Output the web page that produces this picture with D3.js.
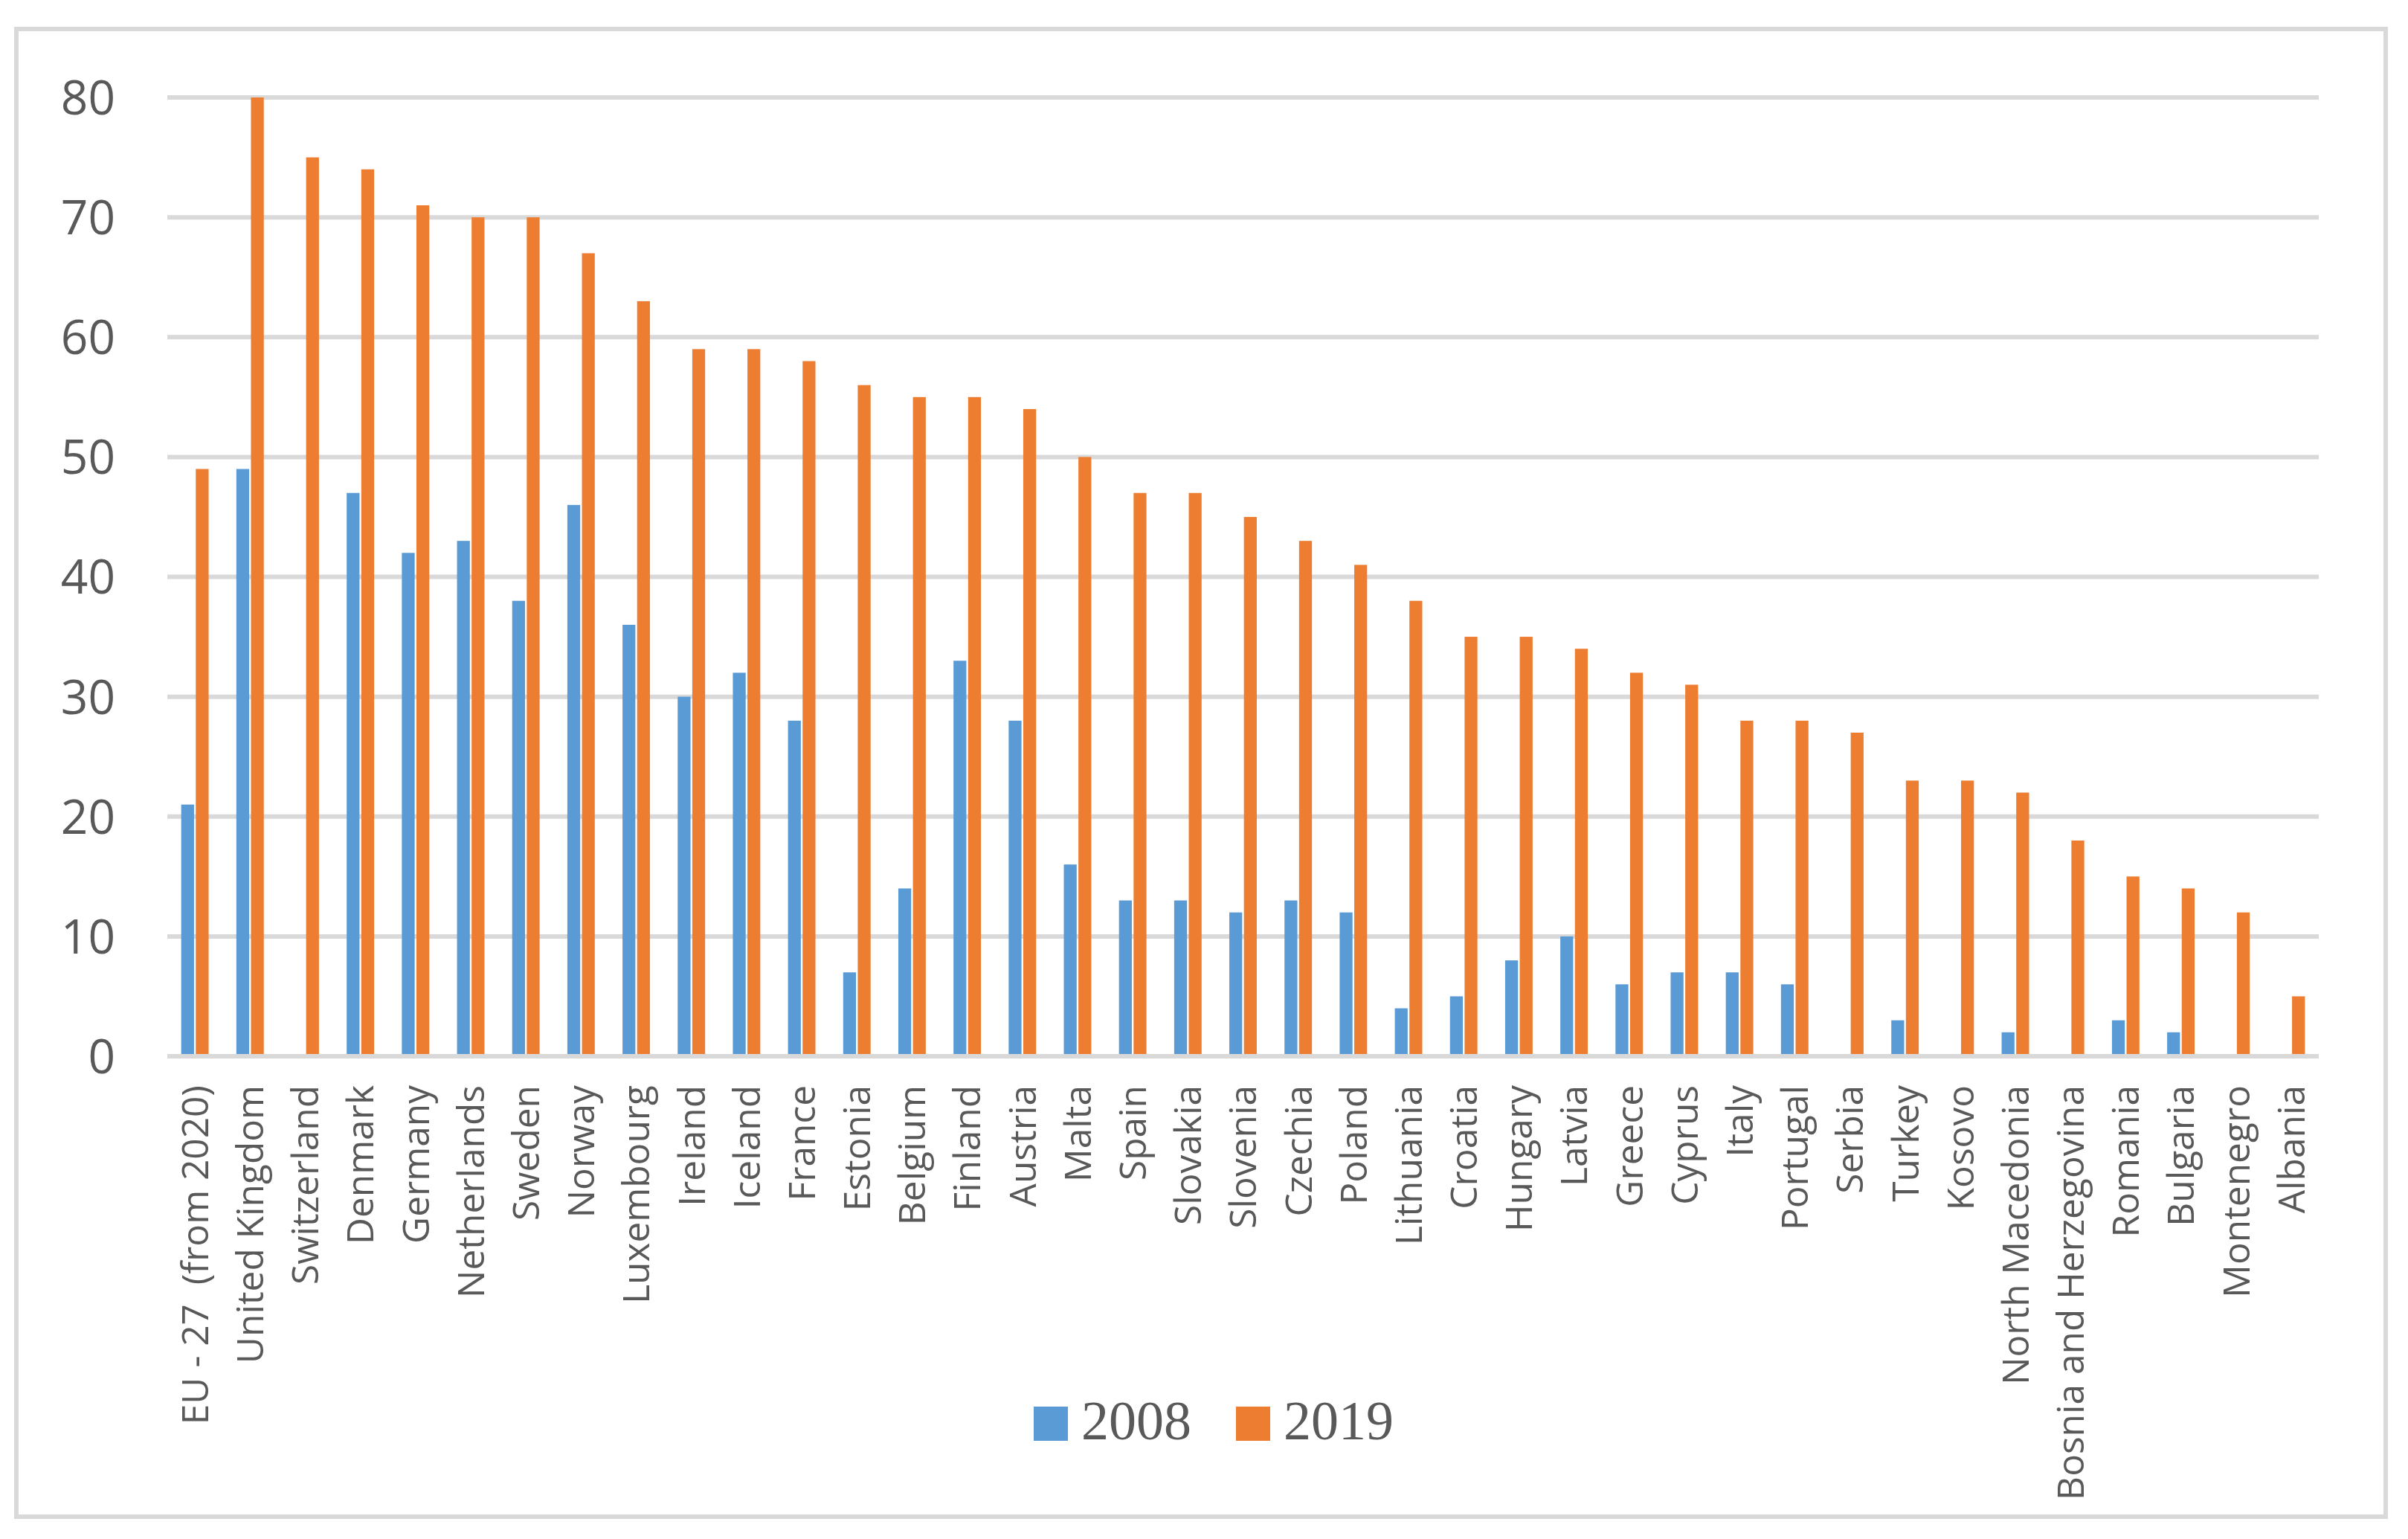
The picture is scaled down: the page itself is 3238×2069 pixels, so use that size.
<!DOCTYPE html>
<html>
<head>
<meta charset="utf-8">
<script src="https://cdn.jsdelivr.net/npm/d3@7"></script>
<style>
  html, body { margin: 0; padding: 0; background: #ffffff; }
  svg { display: block; }
</style>
</head>
<body>
<script>
const categories = ["EU - 27  (from 2020)", "United Kingdom", "Switzerland", "Denmark", "Germany", "Netherlands", "Sweden", "Norway", "Luxembourg", "Ireland", "Iceland", "France", "Estonia", "Belgium", "Finland", "Austria", "Malta", "Spain", "Slovakia", "Slovenia", "Czechia", "Poland", "Lithuania", "Croatia", "Hungary", "Latvia", "Greece", "Cyprus", "Italy", "Portugal", "Serbia", "Turkey", "Kosovo", "North Macedonia", "Bosnia and Herzegovina", "Romania", "Bulgaria", "Montenegro", "Albania"];
const values2008 = [21, 49, null, 47, 42, 43, 38, 46, 36, 30, 32, 28, 7, 14, 33, 28, 16, 13, 13, 12, 13, 12, 4, 5, 8, 10, 6, 7, 7, 6, null, 3, null, 2, null, 3, 2, null, null];
const values2019 = [49, 80, 75, 74, 71, 70, 70, 67, 63, 59, 59, 58, 56, 55, 55, 54, 50, 47, 47, 45, 43, 41, 38, 35, 35, 34, 32, 31, 28, 28, 27, 23, 23, 22, 18, 15, 14, 12, 5];
const seriesNames = ["2008", "2019"];
const seriesColors = ["#5b9bd5", "#ed7d31"];
const yTicks = [0, 10, 20, 30, 40, 50, 60, 70, 80];

const W = 3238, H = 2069;
const plot = { left: 225, right: 3118, top: 131, bottom: 1420 };
const textColor = "#595959";
const gridColor = "#d9d9d9";
const sansFont = "'Open Sans', 'Noto Sans', sans-serif";

const svg = d3.select("body").append("svg").attr("width", W).attr("height", H);

// outer frame
svg.append("rect")
  .attr("x", 22).attr("y", 39).attr("width", 3208 - 22).attr("height", 2039 - 39)
  .attr("fill", "none").attr("stroke", gridColor).attr("stroke-width", 6);

const x = d3.scaleBand().domain(categories).range([plot.left, plot.right]).paddingInner(0).paddingOuter(0);
const y = d3.scaleLinear().domain([0, 80]).range([plot.bottom, plot.top]);

// gridlines
svg.append("g").selectAll("line").data(yTicks).join("line")
  .attr("x1", plot.left).attr("x2", plot.right)
  .attr("y1", d => y(d)).attr("y2", d => y(d))
  .attr("stroke", gridColor).attr("stroke-width", 6);

// y axis labels
const yAxis = d3.axisLeft(y).tickValues(yTicks).tickSize(0).tickPadding(0);
const yg = svg.append("g").attr("transform", `translate(${plot.left - 70},0)`).call(yAxis);
yg.select(".domain").remove();
yg.selectAll("text")
  .attr("font-family", sansFont).attr("font-size", 64).attr("fill", textColor)
  .attr("dy", "0.35em");

// bars
const sub = d3.scaleBand().domain(seriesNames).range([0, x.bandwidth()]).paddingInner(0.12).paddingOuter(0.95);
const series = [values2008, values2019];
series.forEach((vals, si) => {
  svg.append("g").selectAll("rect")
    .data(categories.map((c, i) => ({ c, v: vals[i] })).filter(d => d.v != null))
    .join("rect")
    .attr("x", d => x(d.c) + sub(seriesNames[si]))
    .attr("width", sub.bandwidth())
    .attr("y", d => y(d.v))
    .attr("height", d => y(0) - y(d.v) - 3)
    .attr("fill", seriesColors[si]);
});

// category labels
const labelG = svg.append("g");
const labels = labelG.selectAll("text").data(categories).join("text")
  .attr("transform", d => `translate(${x(d) + x.bandwidth() / 2},${plot.bottom + 39}) rotate(-90)`)
  .attr("text-anchor", "end")
  .attr("dy", "0.36em")
  .attr("font-family", sansFont)
  .attr("font-size", 48)
  .attr("fill", textColor)
  .style("white-space", "pre")
  .text(d => d);

// fit label font so the longest label spans the same length as in the original
const longest = labels.filter(d => d === "Bosnia and Herzegovina").node();
const len = longest.getComputedTextLength();
const fitted = 48 * 558 / len;
labels.attr("font-size", fitted);

// legend
const legend = svg.append("g");
const legendItems = [
  { name: seriesNames[0], color: seriesColors[0], x: 1390 },
  { name: seriesNames[1], color: seriesColors[1], x: 1662 }
];
legendItems.forEach(it => {
  legend.append("rect").attr("x", it.x).attr("y", 1891).attr("width", 46).attr("height", 46).attr("fill", it.color);
  legend.append("text").attr("x", it.x + 64).attr("y", 1935)
    .attr("font-family", "'Liberation Serif', 'Times New Roman', serif")
    .attr("font-size", 74).attr("fill", textColor).text(it.name);
});
</script>
</body>
</html>
